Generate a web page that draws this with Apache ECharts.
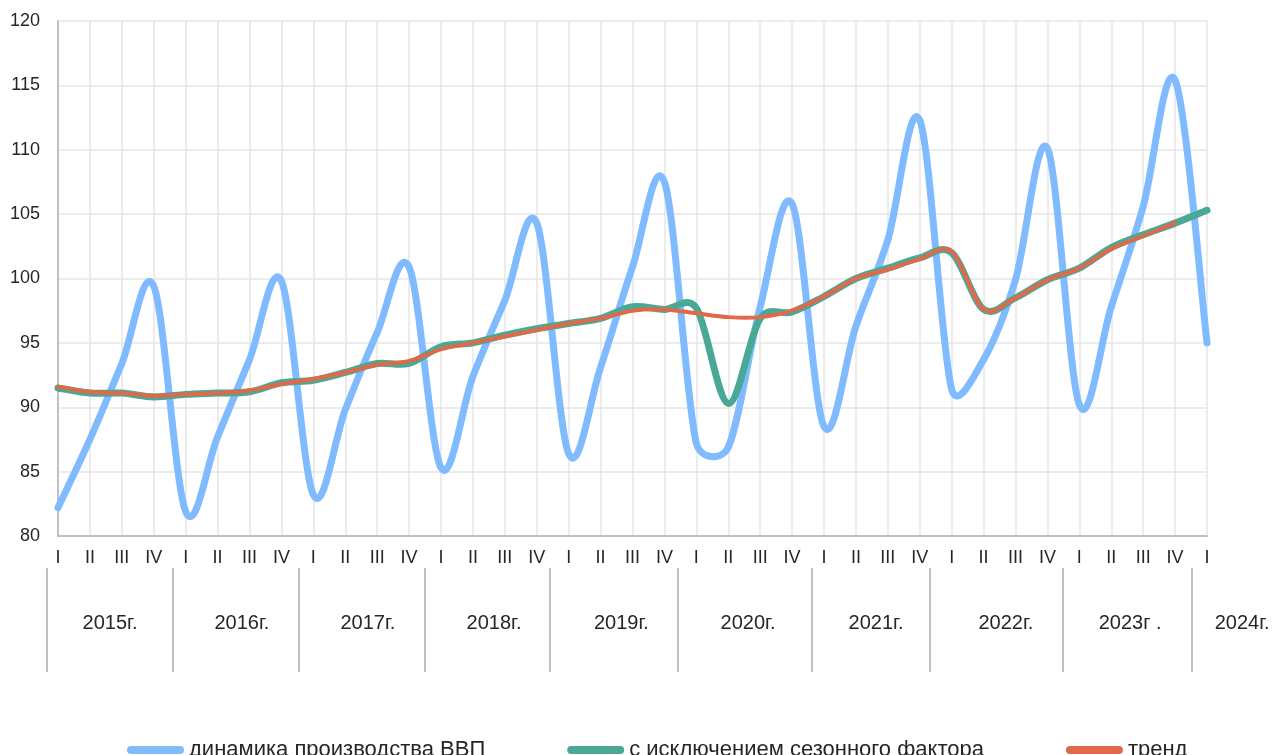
<!DOCTYPE html>
<html>
<head>
<meta charset="utf-8">
<script src="https://cdn.jsdelivr.net/npm/echarts@6/dist/echarts.min.js"></script>
<style>
html,body{margin:0;padding:0;background:#fff;}
#chart{width:1275px;height:755px;}
</style>
</head>
<body>
<div id="chart"></div>
<script>
// Quarter categories 2015 I .. 2024 I
const quarters = [
  'I','II','III','IV','I','II','III','IV','I','II','III','IV',
  'I','II','III','IV','I','II','III','IV','I','II','III','IV',
  'I','II','III','IV','I','II','III','IV','I','II','III','IV','I'
];
// Year labels and their positions (in quarter units) on the lower band
const years = ['2015г.','2016г.','2017г.','2018г.','2019г.','2020г.','2021г.','2022г.','2023г .','2024г.'];
const yearPos = [1.63, 5.76, 9.71, 13.66, 17.65, 21.62, 25.63, 29.70, 33.59, 37.10];
const yearSep = [-0.345, 3.60, 7.55, 11.48, 15.42, 19.43, 23.63, 27.32, 31.49, 35.53];

const gdp = [
  82.2, 87.5, 93.4, 99.4, 81.9, 87.7, 93.7, 99.8, 83.2, 89.8, 95.8, 100.9,
  85.3, 92.4, 98.3, 104.3, 86.4, 93.1, 100.9, 107.5, 87.2, 86.9, 97.8, 105.8,
  88.5, 96.3, 103.0, 112.3, 91.4, 93.7, 99.9, 110.1, 90.2, 97.8, 105.6, 115.4, 95.0
];
const seasAdj = [
  91.5, 91.1, 91.1, 90.8, 91.0, 91.1, 91.2, 91.9, 92.1, 92.7, 93.4, 93.4,
  94.7, 95.0, 95.6, 96.1, 96.5, 96.9, 97.8, 97.6, 97.7, 90.3, 96.9, 97.4,
  98.6, 100.0, 100.8, 101.6, 102.0, 97.6, 98.5, 99.9, 100.8, 102.4, 103.4, 104.3, 105.3
];
const trend = [
  91.6, 91.2, 91.1, 90.9, 91.0, 91.1, 91.3, 91.8, 92.2, 92.7, 93.3, 93.6,
  94.5, 95.0, 95.5, 96.0, 96.5, 96.9, 97.5, 97.6, 97.3, 97.0, 97.0, 97.5,
  98.6, 100.0, 100.7, 101.5, 102.1, 97.6, 98.5, 99.9, 100.8, 102.3, 103.3, 104.3, null
];
const seriesNames = ['динамика производства ВВП','с исключением сезонного фактора','тренд'];

const FONT = "'Liberation Sans', Arial, sans-serif";
const iconPath = 'path://M4,0 L53,0 A4,4 0 0 1 53,8 L4,8 A4,4 0 0 1 4,0 Z';

// Excel-like smoothed line (Catmull-Rom Bezier, handles capped at half the segment)
function capVec(vx, vy, maxLen){
  const l = Math.sqrt(vx*vx + vy*vy);
  if (l > maxLen && l > 0) { const k = maxLen / l; return [vx*k, vy*k]; }
  return [vx, vy];
}
function smoothPath(pts){
  let d = 'M' + pts[0][0] + ',' + pts[0][1];
  for (let i = 0; i < pts.length - 1; i++) {
    const p0 = pts[i-1] || pts[i], p1 = pts[i], p2 = pts[i+1], p3 = pts[i+2] || pts[i+1];
    const seg = Math.sqrt((p2[0]-p1[0])*(p2[0]-p1[0]) + (p2[1]-p1[1])*(p2[1]-p1[1]));
    const a = capVec((p2[0]-p0[0])/6, (p2[1]-p0[1])/6, seg/2);
    const b = capVec((p3[0]-p1[0])/6, (p3[1]-p1[1])/6, seg/2);
    d += ' C' + (p1[0]+a[0]) + ',' + (p1[1]+a[1]) + ' ' + (p2[0]-b[0]) + ',' + (p2[1]-b[1]) + ' ' + p2[0] + ',' + p2[1];
  }
  return d;
}
function smoothSeries(name, values, color, width, z){
  const data = [];
  values.forEach(function(v,i){ if (v != null) data.push([i, v]); });
  return {
    name: name, type: 'custom', coordinateSystem: 'cartesian2d',
    xAxisIndex: 0, yAxisIndex: 0, data: data, z: z,
    itemStyle: {color: color},
    renderItem: function(params, api){
      if (params.dataIndex !== 0) return null;
      const pts = data.map(function(p){ return api.coord(p); });
      return {
        type: 'path',
        shape: {pathData: smoothPath(pts)},
        style: {fill: 'none', stroke: color, lineWidth: width, lineCap: 'round', lineJoin: 'round'}
      };
    }
  };
}

const chart = echarts.init(document.getElementById('chart'), null, {renderer:'canvas'});
chart.setOption({
  animation:false,
  backgroundColor:'#ffffff',
  textStyle:{fontFamily:FONT},
  grid:[
    {left:58, right:68, top:21, bottom:219, containLabel:false},
    {left:47, right:0, top:567, height:1, containLabel:false}
  ],
  legend:{
    data:seriesNames,
    left:122, top:734,
    itemWidth:57, itemHeight:8, itemGap:82,
    icon:iconPath,
    textStyle:{fontSize:22, color:'#262626', fontFamily:FONT}
  },
  xAxis:[
    {
      type:'category', gridIndex:0, data:quarters, boundaryGap:false,
      axisLine:{show:true, lineStyle:{color:'#c0c0c0', width:2}},
      axisTick:{show:false},
      axisLabel:{fontSize:18, color:'#262626', margin:13, interval:0, fontFamily:FONT},
      splitLine:{show:true, interval:0, lineStyle:{color:'#e6e6e6', width:1.5}}
    },
    {
      type:'value', gridIndex:1, min:-0.345, max:38.13,
      axisLine:{show:false},
      axisTick:{show:true, customValues:yearSep, length:104, inside:false,
        lineStyle:{color:'#c0c0c0', width:2}},
      axisLabel:{show:true, customValues:yearPos, fontSize:20, color:'#262626', margin:45, fontFamily:FONT,
        formatter:function(v){
          let best=0, d=1e9;
          for(let i=0;i<yearPos.length;i++){const dd=Math.abs(yearPos[i]-v); if(dd<d){d=dd;best=i;}}
          return years[best];
        }},
      splitLine:{show:false}
    }
  ],
  yAxis:[
    {
      type:'value', gridIndex:0, min:80, max:120, interval:5,
      axisLine:{show:true, lineStyle:{color:'#c0c0c0', width:2}},
      axisTick:{show:false},
      axisLabel:{fontSize:18, color:'#262626', margin:18, fontFamily:FONT},
      splitLine:{show:true, lineStyle:{color:'#e6e6e6', width:1.5}}
    },
    {type:'value', gridIndex:1, show:false}
  ],
  series:[
    smoothSeries(seriesNames[0], gdp, '#80bbff', 7, 2),
    smoothSeries(seriesNames[1], seasAdj, '#4aa996', 7, 3),
    smoothSeries(seriesNames[2], trend, '#e0694a', 4, 4)
  ]
});
</script>
</body>
</html>
